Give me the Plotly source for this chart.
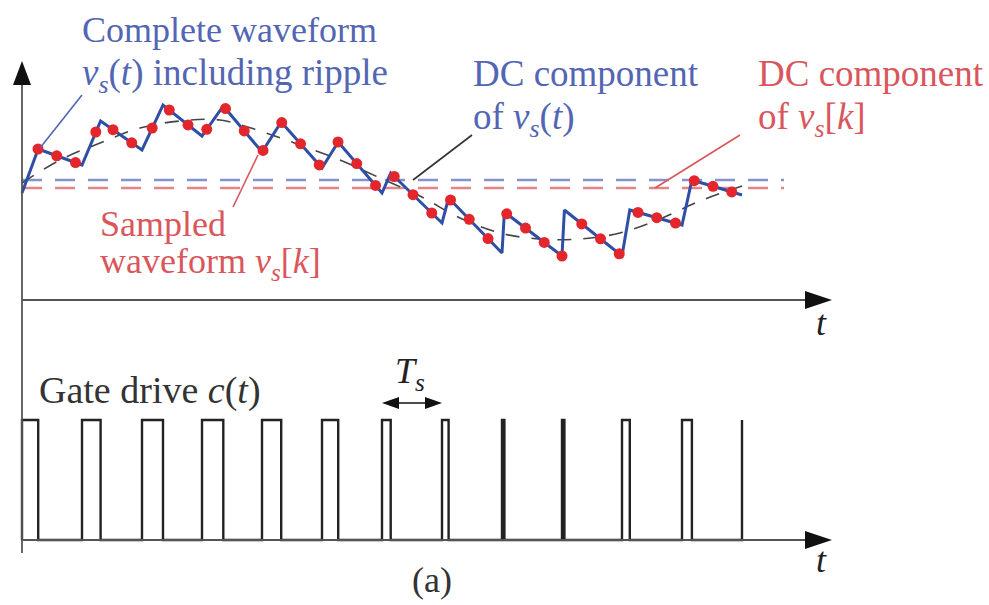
import plotly.graph_objects as go

# ---------------- data (time in switching periods Ts, voltage in arbitrary units) ----------------
periods = list(range(13))                      # period start instants t = 0 .. 12 Ts
duty = [0.27, 0.31, 0.35, 0.355, 0.32, 0.27, 0.145, 0.11, 0.04, 0.04, 0.13, 0.165, 0.0]
valley_v = [10.7, 13.5, 15.0, 16.4, 14.8, 13.2, 10.7, 7.7, 4.7, 4.4, 4.4, 7.5, 10.5]
peak_v = [15.1, 17.9, 19.5, 19.4, 17.8, 15.8, 12.7, 10.2, 8.8, 9.0, 9.0, 12.0]

sample_t = [0.267, 0.579, 0.892, 1.23, 1.517, 1.829, 2.17, 2.454, 2.767, 3.079,
            3.392, 3.704, 4.017, 4.329, 4.642, 4.954, 5.267, 5.579, 5.892, 6.204,
            6.517, 6.829, 7.142, 7.454, 7.767, 8.079, 8.392, 8.704, 9.0, 9.329,
            9.642, 9.954, 10.267, 10.579, 10.892, 11.204, 11.517, 11.829]
sample_v = [15.1, 14.42, 13.74, 16.8, 17.03, 15.72, 17.19, 19.0, 17.51, 17.07,
            19.14, 16.91, 14.96, 17.74, 15.62, 13.51, 15.8, 13.64, 11.46, 12.35,
            10.53, 8.7, 10.0, 8.07, 6.14, 8.62, 7.19, 5.76, 4.4, 7.61,
            6.12, 4.62, 8.76, 8.23, 7.69, 11.93, 11.37, 10.81]

avg_t = [0, 0.633, 1.3, 1.967, 2.633, 3.3, 3.967, 4.633, 5.3, 5.967,
         6.633, 7.3, 7.967, 8.633, 9.3, 9.967, 10.633, 11.3, 12.0]
avg_v = [11.7, 14.0, 15.7, 17.2, 17.9, 18.0, 16.9, 15.5, 14.0, 12.2,
         10.4, 8.2, 6.7, 6.1, 6.1, 6.7, 8.1, 9.9, 11.4]

dc_vs_t = 12.0      # DC component of v_s(t)
dc_vs_k = 11.2      # DC component of v_s[k]
dc_end = 12.7

# ---------------- styling ----------------
BLUE_LINE = "#2f4ea6"
BLUE_TXT = "#5266b3"
RED_DOT = "#e3262c"
RED_TXT = "#d9575c"
AXIS = "#555555"
FONT = "Liberation Serif"
FS = 36

t_axis_end = 13.05
v_axis_top = 21.5

fig = go.Figure()

# DC dashed lines
fig.add_trace(go.Scatter(x=[0, dc_end], y=[dc_vs_t, dc_vs_t], mode="lines",
                         line=dict(color="#8593cc", width=2.5, dash="20px,13px"),
                         hoverinfo="skip", showlegend=False))
fig.add_trace(go.Scatter(x=[0, dc_end], y=[dc_vs_k, dc_vs_k], mode="lines",
                         line=dict(color="#e48486", width=2.5, dash="20px,13px"),
                         hoverinfo="skip", showlegend=False))

# local average (dashed)
fig.add_trace(go.Scatter(x=avg_t, y=avg_v, mode="lines",
                         line=dict(color="#444444", width=1.6, dash="14px,12px", shape="spline"),
                         hoverinfo="skip", showlegend=False))

# complete waveform with ripple
wx, wy = [], []
for k in range(len(peak_v)):
    wx += [periods[k], periods[k] + duty[k]]
    wy += [valley_v[k], peak_v[k]]
wx.append(periods[-1])
wy.append(valley_v[-1])
fig.add_trace(go.Scatter(x=wx, y=wy, mode="lines",
                         line=dict(color=BLUE_LINE, width=3),
                         hoverinfo="skip", showlegend=False))

# samples
fig.add_trace(go.Scatter(x=sample_t, y=sample_v, mode="markers",
                         marker=dict(color=RED_DOT, size=11),
                         hoverinfo="skip", showlegend=False))

# gate drive
gx, gy = [0], [0]
for k in range(len(peak_v)):
    gx += [periods[k], periods[k], periods[k] + duty[k], periods[k] + duty[k]]
    gy += [0, 1, 1, 0]
gx += [periods[-1], periods[-1]]
gy += [0, 1]
fig.add_trace(go.Scatter(x=gx, y=gy, mode="lines", yaxis="y2",
                         line=dict(color="#222222", width=2.4),
                         hoverinfo="skip", showlegend=False))

shapes = []
# axes lines
shapes.append(dict(type="line", xref="x", yref="y", x0=0, x1=t_axis_end, y0=0, y1=0,
                   line=dict(color=AXIS, width=1.8)))
shapes.append(dict(type="line", xref="x", yref="y2", x0=0, x1=t_axis_end, y0=0, y1=0,
                   line=dict(color=AXIS, width=1.8)))
shapes.append(dict(type="line", xref="x", yref="y", x0=0, x1=0, y0=-3, y1=v_axis_top,
                   line=dict(color=AXIS, width=1.8)))
shapes.append(dict(type="line", xref="x", yref="y2", x0=0, x1=0, y0=1.75, y1=-0.108,
                   line=dict(color=AXIS, width=1.8)))
# arrow heads (pixel sized)
for yr in ["y", "y2"]:
    shapes.append(dict(type="path", xref="x", yref=yr, xsizemode="pixel", ysizemode="pixel",
                       xanchor=t_axis_end, yanchor=0, path="M0,-9 L27,0 L0,9 Z",
                       fillcolor="#111111", line=dict(width=0)))
shapes.append(dict(type="path", xref="x", yref="y", xsizemode="pixel", ysizemode="pixel",
                   xanchor=0, yanchor=v_axis_top, path="M-9,0 L9,0 L0,24 Z",
                   fillcolor="#111111", line=dict(width=0)))

# Ts dimension arrow
ts_y = 1.142
shapes.append(dict(type="line", xref="x", yref="y2", x0=6.1, x1=6.9, y0=ts_y, y1=ts_y,
                   line=dict(color="#111111", width=1.6)))
shapes.append(dict(type="path", xref="x", yref="y2", xsizemode="pixel", ysizemode="pixel",
                   xanchor=6, yanchor=ts_y, path="M0,0 L17,6 L17,-6 Z",
                   fillcolor="#111111", line=dict(width=0)))
shapes.append(dict(type="path", xref="x", yref="y2", xsizemode="pixel", ysizemode="pixel",
                   xanchor=7, yanchor=ts_y, path="M0,0 L-17,6 L-17,-6 Z",
                   fillcolor="#111111", line=dict(width=0)))

# leader lines
shapes.append(dict(type="line", xref="x", yref="y", x0=1.0, y0=20.5, x1=0.3, y1=15.2,
                   line=dict(color=BLUE_TXT, width=1.6)))
shapes.append(dict(type="line", xref="x", yref="y", x0=7.5, y0=16.5, x1=6.517, y1=12.0,
                   line=dict(color="#333333", width=1.6)))
shapes.append(dict(type="line", xref="x", yref="y", x0=11.967, y0=16.5, x1=10.55, y1=11.2,
                   line=dict(color=RED_TXT, width=1.6)))
shapes.append(dict(type="line", xref="x", yref="y", x0=3.933, y0=14.5, x1=3.517, y1=9.3,
                   line=dict(color=RED_TXT, width=1.6)))

vs_t = "<i>v</i><sub><i>s</i></sub>(<i>t</i>)"
vs_k = "<i>v</i><sub><i>s</i></sub>[<i>k</i>]"


def txt(x, y, s, color, yref="y", xanchor="left", size=FS):
    return dict(x=x, y=y, xref="x", yref=yref, text=s, showarrow=False,
                xanchor=xanchor, yanchor="middle",
                font=dict(family=FONT, size=size, color=color))


annotations = [
    txt(0.97, 27.0, "Complete waveform", BLUE_TXT),
    txt(0.97, 22.5, vs_t + " including ripple", BLUE_TXT, size=37),
    txt(7.48, 22.7, "DC component", BLUE_TXT, size=37),
    txt(7.48, 18.1, "of " + vs_t, BLUE_TXT, size=37),
    txt(12.23, 22.7, "DC component", RED_TXT, size=37),
    txt(12.23, 18.1, "of " + vs_k, RED_TXT, size=37),
    txt(1.27, 7.6, "Sampled", RED_TXT),
    txt(1.27, 3.7, "waveform " + vs_k, RED_TXT),
    txt(13.33, -2.3, "<i>t</i>", "#222222", xanchor="center"),
    txt(0.25, 1.242, "Gate drive <i>c</i>(<i>t</i>)", "#333333", yref="y2", size=38),
    txt(6.47, 1.39, "<i>T</i><sub><i>s</i></sub>", "#222222", yref="y2", xanchor="center"),
    txt(13.33, -0.167, "<i>t</i>", "#222222", yref="y2", xanchor="center"),
    txt(6.83, -0.333, "(a)", "#333333", yref="y2", xanchor="center"),
]

split = 1 - 330 / 605
fig.update_layout(
    width=989, height=605,
    margin=dict(l=0, r=0, t=0, b=0),
    paper_bgcolor="white", plot_bgcolor="white",
    showlegend=False,
    xaxis=dict(range=[-22 / 60, 967 / 60], visible=False),
    yaxis=dict(domain=[split, 1], range=[-3, 30], visible=False),
    yaxis2=dict(domain=[0, split], range=[-65 / 120, 210 / 120], visible=False, anchor="x"),
    shapes=shapes,
    annotations=annotations,
)

fig.write_html("out.html", config={"displayModeBar": False},
               post_script="document.body.style.margin='0px';document.body.style.overflow='hidden';")
